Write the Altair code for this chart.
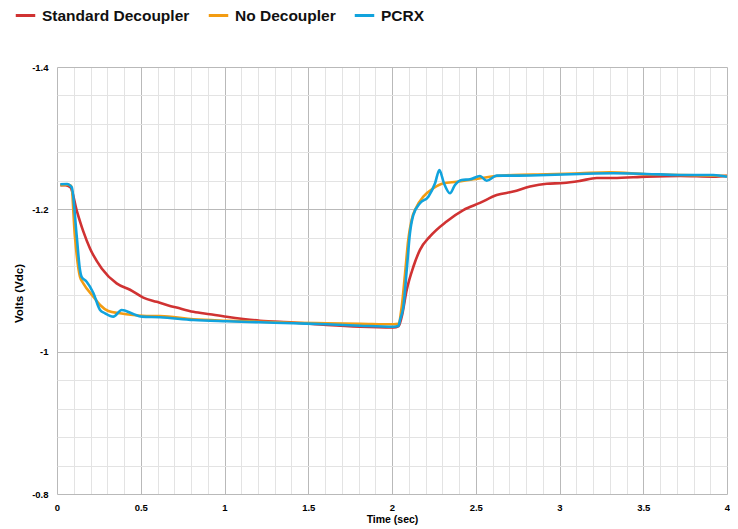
import altair as alt
import pandas as pd

# Standard Decoupler
t_std = [0.02, 0.05, 0.08, 0.117, 0.157, 0.197, 0.267, 0.356, 0.436, 0.515, 0.595, 0.665,
         0.714, 0.814, 0.913, 1.013, 1.112, 1.212, 1.41, 1.61, 1.81, 2.008, 2.04,
         2.058, 2.088, 2.127, 2.167, 2.227, 2.326, 2.426, 2.525, 2.625, 2.724, 2.824,
         2.924, 3.023, 3.122, 3.222, 3.321, 3.52, 3.72, 3.918, 4.0]
v_std = [-1.234, -1.234, -1.231, -1.199, -1.169, -1.145, -1.117, -1.096, -1.087, -1.076, -1.070, -1.065,
         -1.062, -1.056, -1.0525, -1.049, -1.046, -1.0435, -1.041, -1.0375, -1.035, -1.034, -1.036,
         -1.049, -1.087, -1.119, -1.143, -1.162, -1.183, -1.199, -1.209, -1.220, -1.225, -1.232,
         -1.236, -1.237, -1.240, -1.244, -1.244, -1.246, -1.247, -1.246, -1.247]

# No Decoupler
t_no = [0.02, 0.06, 0.085, 0.107, 0.137, 0.157, 0.217, 0.257, 0.306, 0.376, 0.455, 0.555,
        0.615, 0.814, 1.013, 1.212, 1.41, 1.61, 1.81, 2.008, 2.038,
        2.058, 2.078, 2.097, 2.117, 2.147, 2.187, 2.247, 2.307, 2.386, 2.485, 2.625,
        2.724, 2.924, 3.122, 3.3, 3.52, 3.72, 4.0]
v_no = [-1.234, -1.2345, -1.233, -1.1616, -1.1053, -1.0961, -1.0773, -1.0656, -1.0572, -1.0539, -1.0515, -1.0501,
        -1.0501, -1.0455, -1.0435, -1.0421, -1.0407, -1.0399, -1.0393, -1.0385, -1.039,
        -1.0632, -1.1101, -1.1569, -1.1850, -1.2037, -1.2178, -1.2296, -1.2366, -1.2388, -1.2422, -1.2468,
        -1.2483, -1.2492, -1.2506, -1.252, -1.2492, -1.2483, -1.2468]

# PCRX
t_pc = [0.02, 0.06, 0.088, 0.117, 0.137, 0.147, 0.177, 0.217, 0.257, 0.287, 0.336, 0.386,
        0.455, 0.506, 0.615, 0.814, 1.013, 1.212, 1.41, 1.61, 1.81, 2.008, 2.038,
        2.048, 2.068, 2.088, 2.107, 2.127, 2.167, 2.217, 2.257, 2.283, 2.310, 2.346,
        2.376, 2.416, 2.466, 2.525, 2.565, 2.625, 2.724, 2.924, 3.122, 3.321, 3.52,
        3.72, 3.918, 4.0]
v_pc = [-1.2352, -1.2356, -1.231, -1.164, -1.115, -1.105, -1.0983, -1.0825, -1.0586, -1.0539, -1.0492, -1.0586,
        -1.0529, -1.0492, -1.0484, -1.0445, -1.0427, -1.0413, -1.0399, -1.0385, -1.0365, -1.0351, -1.036,
        -1.0445, -1.0632, -1.1148, -1.1663, -1.1920, -1.2085, -1.2178, -1.2366, -1.2553, -1.2366, -1.2225,
        -1.2342, -1.2412, -1.2422, -1.2468, -1.2402, -1.2473, -1.2473, -1.2483, -1.2497, -1.2506, -1.2497,
        -1.2483, -1.2483, -1.2459]

series = ["Standard Decoupler", "No Decoupler", "PCRX"]
colors = ["#d03232", "#f39c12", "#11a3dd"]

rows = []
for name, ts, vs in [(series[0], t_std, v_std), (series[1], t_no, v_no), (series[2], t_pc, v_pc)]:
    for i, (t, v) in enumerate(zip(ts, vs)):
        rows.append({"t": t, "v": v, "series": name, "i": i})
df = pd.DataFrame(rows)

x_vals = [round(i / 10, 1) for i in range(41)]
y_vals = [round(-1.4 + 0.04 * k, 2) for k in range(16)]

font = "Liberation Sans"

chart = alt.Chart(df).mark_line(strokeWidth=2.6, interpolate="monotone").encode(
    x=alt.X("t:Q",
            scale=alt.Scale(domain=[0, 4], nice=False),
            axis=alt.Axis(values=x_vals,
                          labelExpr="round(datum.value*10) % 5 === 0 ? toString(datum.value) : ''",
                          gridColor={"condition": {"test": "round(datum.value*10) % 5 === 0", "value": "#b9b9b9"},
                                     "value": "#e3e3e3"},
                          title="Time (sec)", titleFontSize=10.5, titleFont=font, titleFontWeight="bold",
                          titleColor="#000", titlePadding=3,
                          labelFont=font, labelFontSize=9.5, labelFontWeight="bold", labelColor="#000",
                          labelPadding=8, ticks=False, domain=False, labelFlush=False)),
    y=alt.Y("v:Q",
            scale=alt.Scale(domain=[-1.4, -0.8], reverse=True, nice=False, zero=False),
            axis=alt.Axis(values=y_vals,
                          labelExpr="round(datum.value*100) % 20 === 0 ? toString(datum.value) : ''",
                          gridColor={"condition": {"test": "round(datum.value*100) % 20 === 0", "value": "#b9b9b9"},
                                     "value": "#e3e3e3"},
                          title="Volts (Vdc)", titleFontSize=11.5, titleFont=font, titleFontWeight="bold",
                          titleColor="#000", titleX=-33, titleY=226,
                          labelFont=font, labelFontSize=9.5, labelFontWeight="bold", labelColor="#000",
                          labelPadding=9, ticks=False, domain=False)),
    color=alt.Color("series:N",
                    scale=alt.Scale(domain=series, range=colors),
                    sort=series,
                    legend=alt.Legend(title=None, orient="none", legendX=-43, legendY=-63,
                                      direction="horizontal", symbolType="stroke",
                                      symbolStrokeWidth=3, symbolSize=380,
                                      labelFont=font, labelFontSize=15.5, labelFontWeight="bold",
                                      labelColor="#111", labelOffset=5, columnPadding=12,
                                      padding=0, labelLimit=300)),
    order=alt.Order("i:Q"),
).properties(
    width=670, height=427,
    padding={"left": 49, "top": 59, "right": 3, "bottom": 34},
    autosize=alt.AutoSizeParams(type="none"),
).configure_view(stroke=None)

chart.save("out.html", embed_options={"renderer": "svg", "actions": False})
